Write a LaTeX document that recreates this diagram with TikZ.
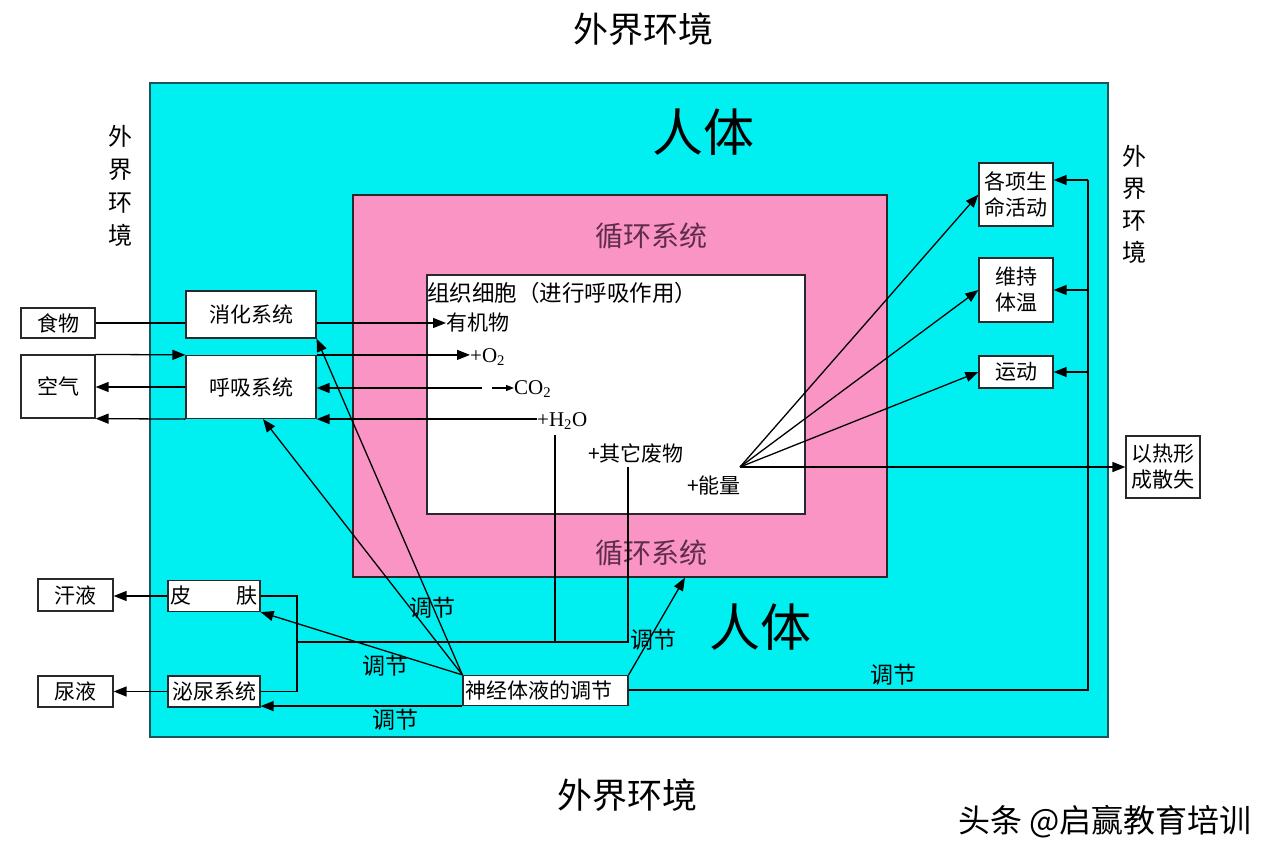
\documentclass[tikz,border=0pt]{standalone}
\usepackage{fontspec}
\setmainfont{Liberation Serif}
\newfontfamily\cjk{Noto Sans CJK SC}
\usetikzlibrary{arrows.meta}
\definecolor{bodycyan}{RGB}{0,240,242}
\definecolor{bodyedge}{RGB}{25,85,90}
\definecolor{circpink}{RGB}{249,148,196}
\definecolor{circtext}{RGB}{95,45,75}
\definecolor{edgedark}{RGB}{40,40,45}
\tikzset{
  lbl/.style={font=\cjk\fontsize{21}{24}\selectfont, inner sep=0pt},
  box/.style={draw=edgedark, line width=1.2pt, fill=white, inner sep=0pt, align=center,
              font=\cjk\fontsize{21}{26}\selectfont},
  ln/.style={draw=black, line width=1.3pt},
  arr/.style={ln, -{Triangle[length=13pt,width=10pt]}},
  big/.style={font=\cjk\fontsize{35}{38}\selectfont, inner sep=0pt},
  chem/.style={font=\fontsize{21}{24}\selectfont, inner sep=0pt},
  reg/.style={font=\cjk\fontsize{23}{26}\selectfont, inner sep=0pt},
}
\begin{document}
\begin{tikzpicture}[x=1pt,y=-1pt]
\useasboundingbox (0,0) rectangle (1280,860);
\fill[white] (0,0) rectangle (1280,860);
% titles
\node[big] (ttop) at (643,29) {外界环境};
\node[big] (tbot) at (627,795) {外界环境};
\node[lbl, align=center, font=\cjk\fontsize{24}{33}\selectfont] (tleft) at (120,186) {外\\界\\环\\境};
\node[lbl, align=center, font=\cjk\fontsize{24}{32}\selectfont] (tright) at (1134,204) {外\\界\\环\\境};
% body containers
\node[draw=bodyedge, line width=1.5pt, fill=bodycyan, minimum width=958pt, minimum height=654pt, inner sep=0pt] (body) at (629,410) {};
\node[draw=edgedark, line width=1.3pt, fill=circpink, minimum width=534pt, minimum height=382pt, inner sep=0pt] (circ) at (620,386) {};
\node[draw=edgedark, line width=1.3pt, fill=white, minimum width=378pt, minimum height=239pt, inner sep=0pt] (cell) at (616,394.5) {};
\node[font=\cjk\fontsize{51}{54}\selectfont, inner sep=0pt] (ren1) at (703,132) {人体};
\node[font=\cjk\fontsize{51}{54}\selectfont, inner sep=0pt] (ren2) at (760,627) {人体};
\node[lbl, text=circtext, font=\cjk\fontsize{28}{30}\selectfont] (ctop) at (651,236) {循环系统};
\node[lbl, text=circtext, font=\cjk\fontsize{28}{30}\selectfont] (cbot) at (651,553) {循环系统};
% cell contents
\node[lbl, anchor=west, font=\cjk\fontsize{22.5}{25}\selectfont] (celltitle) at (427,293) {组织细胞（进行呼吸作用）};
\node[lbl, anchor=west] (org) at (446,323) {有机物};
\node[chem, anchor=west] (o2) at (470,357) {+O\textsubscript{2}};
\node[chem, anchor=west] (co2) at (514,389) {CO\textsubscript{2}};
\coordinate (co2tail) at (492,388);
\coordinate (co2line) at (482,388);
\node[chem, anchor=west] (h2o) at (537,421) {+H\textsubscript{2}O};
\node[lbl, anchor=west] (waste) at (588,453) {+其它废物};
\node[lbl] (energy) at (714,485) {+能量};
\coordinate (fan) at (740,467);
% left boxes
\node[box, minimum width=74pt, minimum height=30pt] (food) at (58,323) {食物};
\node[box, minimum width=74pt, minimum height=63pt] (air) at (58,386.5) {空气};
\node[box, minimum width=130pt, minimum height=47pt] (dig) at (251,314.5) {消化系统};
\node[box, minimum width=130pt, minimum height=63pt] (resp) at (251,387) {呼吸系统};
\node[box, minimum width=92pt, minimum height=31pt, text width=88pt] (skin) at (214,596) {皮\hfill 肤};
\node[box, minimum width=92pt, minimum height=31pt] (urin) at (214,691.5) {泌尿系统};
\node[box, minimum width=75pt, minimum height=32pt] (sweat) at (75.5,595) {汗液};
\node[box, minimum width=75pt, minimum height=31pt] (urine) at (75.5,691.5) {尿液};
\node[box, minimum width=165pt, minimum height=30pt, text width=161pt, align=left] (neuro) at (545.5,690.5) {神经体液的调节};
% right boxes
\node[box, minimum width=74pt, minimum height=63pt] (act) at (1016,194.5) {各项生\\命活动};
\node[box, minimum width=74pt, minimum height=64pt] (temp) at (1016,290) {维持\\体温};
\node[box, minimum width=74pt, minimum height=32pt] (move) at (1016,372) {运动};
\node[box, minimum width=74pt, minimum height=62pt] (heat) at (1163,467) {以热形\\成散失};
% digestion
\draw[ln] (food.east) -- (food.east -| dig.west);
\draw[arr] (food.east -| dig.east) -- (org.west);
% respiration
\draw[arr] (air.north east) -- (resp.north west);
\draw[arr] (resp.north east) -- (o2.west |- resp.north east);
\draw[arr] (co2line) -- (co2line -| resp.east);
\draw[ln, -{Triangle[length=8pt,width=6pt]}] (co2tail) -- (co2.west |- co2tail);
\draw[arr] (resp.west) -- (resp.west -| air.east);
\draw[arr] (h2o.west |- resp.south) -- (resp.south east);
\draw[arr] (resp.south west) -- (air.south east);
% waste collection
\coordinate (h2odown) at (555,435);
\coordinate (wastedown) at (628,467);
\coordinate (col) at (297,642);
\draw[ln] (h2odown) -- (h2odown |- col);
\draw[ln] (wastedown) -- (wastedown |- col) -- (col);
\draw[ln] (skin.east) -- (skin.east -| col) -- (urin.east -| col) -- (urin.east);
\draw[arr] (skin.west) -- (skin.west -| sweat.east);
\draw[arr] (urin.west) -- (urin.west -| urine.east);
% regulation
\draw[arr] (neuro.north west) -- (dig.south east);
\draw[arr] (neuro.north west) -- ([xshift=12pt]resp.south);
\draw[arr] (neuro.north west) -- (skin.south east);
\draw[arr] (neuro.south west) -- (neuro.south west -| urin.east);
\draw[arr] (neuro.north east) -- ([xshift=65pt]circ.south);
\coordinate (bus) at (1088,690);
\coordinate (bustop) at (1088,180);
\draw[ln] (neuro.east |- bus) -- (bus) -- (bustop);
\draw[arr] (bustop) -- (bustop -| act.east);
\draw[arr] (temp.east -| bus) -- (temp.east);
\draw[arr] (move.east -| bus) -- (move.east);
% energy
\draw[arr] (fan) -- (act.west);
\draw[arr] (fan) -- (temp.west);
\draw[arr] (fan) -- (move.west);
\draw[arr] (fan) -- (heat.west);
% 调节 labels
\node[reg] (r1) at (432,608) {调节};
\node[reg] (r2) at (385,666) {调节};
\node[reg] (r3) at (395,720) {调节};
\node[reg] (r4) at (653,640) {调节};
\node[reg] (r5) at (893,675) {调节};
% watermark
\node[font=\cjk\fontsize{32}{34}\selectfont, inner sep=0pt] (wm) at (1105,822) {头条 @启赢教育培训};
\end{tikzpicture}
\end{document}
